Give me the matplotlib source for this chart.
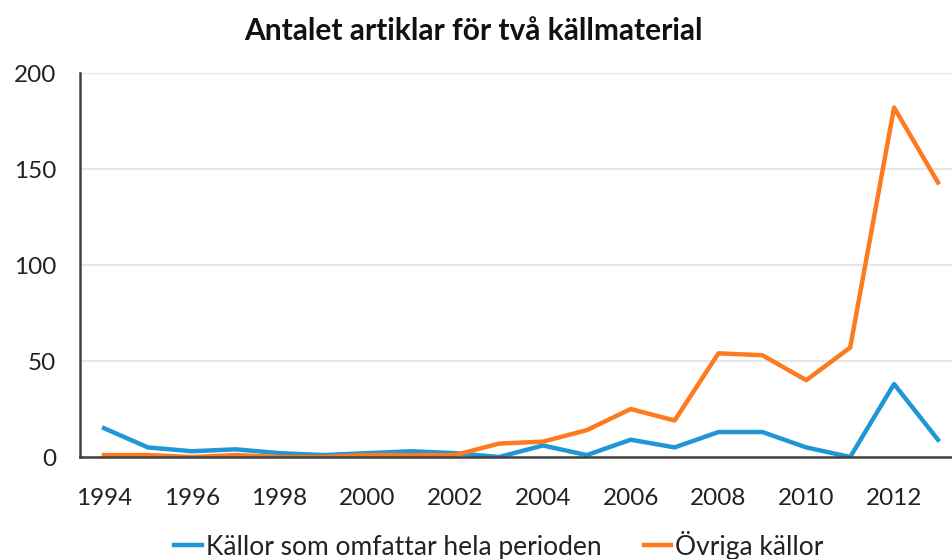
import matplotlib
matplotlib.use("Agg")
import matplotlib.pyplot as plt

years = list(range(1994, 2014))
hela_perioden = [15, 5, 3, 4, 2, 1, 2, 3, 2, 0, 6, 1, 9, 5, 13, 13, 5, 0, 38, 9]
ovriga = [1, 1, 0, 1, 0, 0, 1, 1, 1, 7, 8, 14, 25, 19, 54, 53, 40, 57, 182, 143]
xticks = list(range(1994, 2013, 2))
yticks = [0, 50, 100, 150, 200]

title = "Antalet artiklar för två källmaterial"
labels = ["Källor som omfattar hela perioden", "Övriga källor"]
colors = ["#2196d6", "#fd7a1e"]

plt.rcParams['font.family'] = ['Lato', 'DejaVu Sans']

fig = plt.figure(figsize=(9.52, 5.59), dpi=100)
ax = fig.add_axes([80/952, 1-457/559, 1-80/952, (457-73)/559])

ax.plot(years, hela_perioden, color=colors[0], lw=3.2, label=labels[0], solid_joinstyle='round')
ax.plot(years, ovriga, color=colors[1], lw=3.2, label=labels[1], solid_joinstyle='round')

ax.set_ylim(0, 200)
ax.set_xlim(1993.453, 2013.32)
ax.set_yticks(yticks)
ax.set_xticks(xticks)
ax.grid(axis='y', color='#e6e6e6', lw=1.5)
ax.set_axisbelow(True)
for s in ['top', 'right']:
    ax.spines[s].set_visible(False)
for s in ['left', 'bottom']:
    ax.spines[s].set_color('#404040')
    ax.spines[s].set_linewidth(1.8)
ax.tick_params(axis='both', length=0, labelsize=17.5, colors='#222222')
ax.tick_params(axis='y', pad=17)
ax.tick_params(axis='x', pad=22)
for lbl in ax.get_yticklabels():
    lbl.set_horizontalalignment('right')

fig.text(473/952, 1-31/559, title, ha='center', va='center', fontsize=21.5, fontweight='bold', color='#111111')

leg = fig.legend(loc='center', bbox_to_anchor=(499/952, 1-545/559), ncol=2, frameon=False,
                 fontsize=19, handlelength=1.05, handletextpad=0.15, columnspacing=1.6)
for t in leg.get_texts():
    t.set_color('#222222')

fig.savefig("out.png", dpi=100)
